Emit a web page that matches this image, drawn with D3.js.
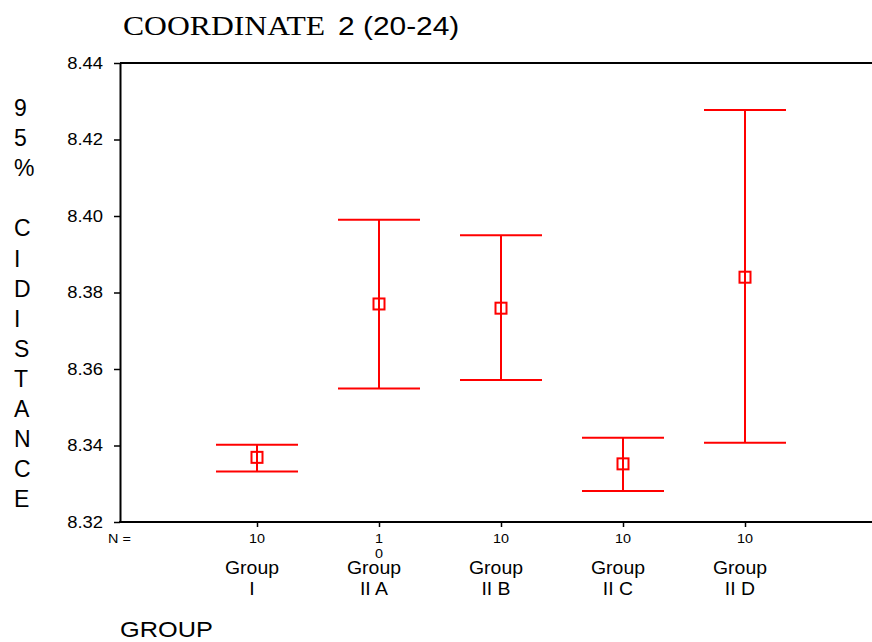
<!DOCTYPE html>
<html>
<head>
<meta charset="utf-8">
<script src="https://cdn.jsdelivr.net/npm/d3@7/dist/d3.min.js"></script>
<style>
  body { margin: 0; background: #fff; }
  svg { display: block; }
  text { font-family: Arial, "Liberation Sans", sans-serif; fill: #000; }
</style>
</head>
<body>
<svg id="grafico" width="872" height="642"></svg>
<script>
const groups = ["Group I", "Group II A", "Group II B", "Group II C", "Group II D"];
const groupLines = [["Group", "I"], ["Group", "II A"], ["Group", "II B"], ["Group", "II C"], ["Group", "II D"]];
const nLabels = [["10"], ["1", "0"], ["10"], ["10"], ["10"]];
const means = [8.3369, 8.3770, 8.3759, 8.3352, 8.3840];
const upper = [8.3402, 8.3990, 8.3950, 8.3420, 8.4277];
const lower = [8.3332, 8.3549, 8.3571, 8.3281, 8.3407];
const yTicks = [8.32, 8.34, 8.36, 8.38, 8.40, 8.42, 8.44];
const yTitle = ["9", "5", "%", "", "C", "I", "D", "I", "S", "T", "A", "N", "C", "E"];

const svg = d3.select("#grafico");
const width = +svg.attr("width");
const plotLeft = 120, plotTop = 63, plotBottom = 522;
const red = "#ff0000";

// stretch text horizontally like the original export
function stretch(sel, k) {
  sel.each(function() {
    const w = this.getComputedTextLength();
    d3.select(this).attr("textLength", w * k).attr("lengthAdjust", "spacingAndGlyphs");
  });
}

const y = d3.scaleLinear().domain([8.32, 8.44]).range([plotBottom, plotTop]);
const x = d3.scalePoint().domain(groups).range([257, 745]);

// title
svg.append("text").attr("x", 123).attr("y", 35)
  .style("font-family", "'Liberation Serif', 'Times New Roman', serif")
  .style("font-size", "28px")
  .text("COORDINATE")
  .call(stretch, 1.13);
svg.append("text").attr("x", 338).attr("y", 35)
  .style("font-size", "26px")
  .text("2 (20-24)")
  .call(stretch, 1.15);

// frame top line
svg.append("line")
  .attr("x1", plotLeft).attr("x2", width).attr("y1", plotTop).attr("y2", plotTop)
  .attr("stroke", "#000").attr("stroke-width", 2);

// y axis
const yAxis = svg.append("g")
  .attr("transform", `translate(${plotLeft},0)`)
  .call(d3.axisLeft(y).tickValues(yTicks).tickFormat(d3.format(".2f")).tickSize(6).tickSizeOuter(0).tickPadding(11));
yAxis.select(".domain").attr("stroke-width", 2);
yAxis.selectAll(".tick line").attr("stroke-width", 1.5);
yAxis.selectAll("text").style("font-size", "16px").style("font-family", "Arial, 'Liberation Sans', sans-serif").call(stretch, 1.15);

// x axis
const xAxis = svg.append("g")
  .attr("transform", `translate(0,${plotBottom})`)
  .call(d3.axisBottom(x).tickSize(5).tickSizeOuter(0).tickFormat(""));
xAxis.select(".domain").remove();
xAxis.selectAll(".tick line").attr("stroke-width", 1.5);
svg.append("line")
  .attr("x1", plotLeft - 1).attr("x2", width).attr("y1", plotBottom).attr("y2", plotBottom)
  .attr("stroke", "#000").attr("stroke-width", 2);

// N = row
svg.append("text").attr("x", 108).attr("y", 543)
  .style("font-size", "12.5px").text("N =").call(stretch, 1.15);
groups.forEach((g, i) => {
  nLabels[i].forEach((t, j) => {
    svg.append("text")
      .attr("x", x(g)).attr("y", 543 + j * 15)
      .attr("text-anchor", "middle")
      .style("font-size", "12.5px")
      .text(t).call(stretch, 1.15);
  });
  groupLines[i].forEach((t, j) => {
    svg.append("text")
      .attr("x", x(g) - 5).attr("y", 574 + j * 21)
      .attr("text-anchor", "middle")
      .style("font-size", "18.5px")
      .text(t).call(stretch, 1.05);
  });
});

// axis titles
svg.append("text").attr("x", 120).attr("y", 637)
  .style("font-size", "22px").text("GROUP").call(stretch, 1.15);
yTitle.forEach((t, i) => {
  if (!t) return;
  svg.append("text")
    .attr("x", 14).attr("y", 116 + i * 30.1)
    .style("font-size", "23px")
    .text(t);
});

// error bars
const bars = svg.append("g").attr("stroke", red).attr("stroke-width", 2).attr("fill", "none");
const half = 41;
groups.forEach((g, i) => {
  const cx = x(g);
  bars.append("line").attr("x1", cx).attr("x2", cx).attr("y1", y(upper[i])).attr("y2", y(lower[i]));
  bars.append("line").attr("x1", cx - half).attr("x2", cx + half).attr("y1", y(upper[i])).attr("y2", y(upper[i]));
  bars.append("line").attr("x1", cx - half).attr("x2", cx + half).attr("y1", y(lower[i])).attr("y2", y(lower[i]));
  bars.append("rect")
    .attr("x", cx - 5.5).attr("y", y(means[i]) - 5.5)
    .attr("width", 11).attr("height", 11);
});
</script>
</body>
</html>
